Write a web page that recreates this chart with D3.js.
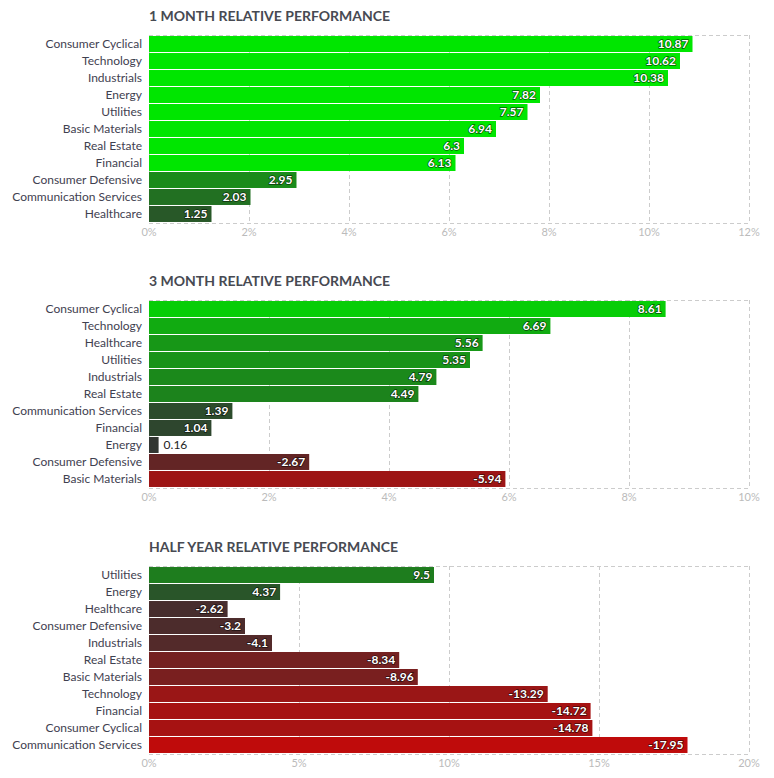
<!DOCTYPE html>
<html>
<head>
<meta charset="utf-8">
<script src="https://cdn.jsdelivr.net/npm/d3@7"></script>
<style>
  body { margin: 0; background: #fff; }
  svg { display: block; font-family: Lato, "Open Sans", sans-serif; }
</style>
</head>
<body>
<div id="chart"></div>
<script>
// chart data
var titles = ["1 MONTH RELATIVE PERFORMANCE", "3 MONTH RELATIVE PERFORMANCE", "HALF YEAR RELATIVE PERFORMANCE"];

var sectors1m = ["Consumer Cyclical", "Technology", "Industrials", "Energy", "Utilities", "Basic Materials",
  "Real Estate", "Financial", "Consumer Defensive", "Communication Services", "Healthcare"];
var values1m = [10.87, 10.62, 10.38, 7.82, 7.57, 6.94, 6.3, 6.13, 2.95, 2.03, 1.25];

var sectors3m = ["Consumer Cyclical", "Technology", "Healthcare", "Utilities", "Industrials", "Real Estate",
  "Communication Services", "Financial", "Energy", "Consumer Defensive", "Basic Materials"];
var values3m = [8.61, 6.69, 5.56, 5.35, 4.79, 4.49, 1.39, 1.04, 0.16, -2.67, -5.94];

var sectorsHy = ["Utilities", "Energy", "Healthcare", "Consumer Defensive", "Industrials", "Real Estate",
  "Basic Materials", "Technology", "Financial", "Consumer Cyclical", "Communication Services"];
var valuesHy = [9.5, 4.37, -2.62, -3.2, -4.1, -8.34, -8.96, -13.29, -14.72, -14.78, -17.95];

var axisMax = [12, 10, 20];
var tickStep = [2, 2, 5];

var svgWidth = 774;
var svgHeight = 778;

var margin = { left: 149, right: 25 };
var plotWidth = svgWidth - margin.left - margin.right;
var plotHeight = 188;
var tops = [35, 300, 566];

// colour strength saturates at this absolute value, per chart
var colorCap = [6, 10, 23];

var svg = d3.select("#chart")
  .append("svg")
  .attr("width", svgWidth)
  .attr("height", svgHeight);

var charts = [
  { sectors: sectors1m, values: values1m },
  { sectors: sectors3m, values: values3m },
  { sectors: sectorsHy, values: valuesHy }
];

charts.forEach(function(c, i) {
  var data = c.sectors.map(function(s, j) { return { name: s, value: c.values[j] }; });

  var g = svg.append("g")
    .attr("transform", `translate(${margin.left}, ${tops[i]})`);

  g.append("text")
    .attr("x", 0)
    .attr("y", -14)
    .attr("fill", "#474a52")
    .style("font-size", "14px")
    .style("font-weight", "bold")
    .text(titles[i]);

  var xScale = d3.scaleLinear()
    .domain([0, axisMax[i]])
    .range([0, plotWidth]);

  var yScale = d3.scaleBand()
    .domain(c.sectors)
    .range([0, plotHeight])
    .paddingInner(0.06)
    .paddingOuter(0.06);

  var pos = d3.scaleLinear().domain([0, colorCap[i]]).range(["#333333", "#00e600"]).clamp(true);
  var neg = d3.scaleLinear().domain([0, colorCap[i]]).range(["#333333", "#e60000"]).clamp(true);
  var color = function(v) { return v >= 0 ? pos(v) : neg(-v); };

  var ticks = d3.range(0, axisMax[i] + 0.001, tickStep[i]);

  // dashed grid
  g.selectAll(".grid")
    .data(ticks)
    .enter()
    .append("line")
    .attr("x1", d => xScale(d) + 0.5)
    .attr("x2", d => xScale(d) + 0.5)
    .attr("y1", 0)
    .attr("y2", plotHeight)
    .attr("stroke", "#cccccc")
    .attr("stroke-dasharray", "4,3");

  [0, plotHeight].forEach(function(y) {
    g.append("line")
      .attr("x1", 0)
      .attr("x2", plotWidth + 1)
      .attr("y1", y + 0.5)
      .attr("y2", y + 0.5)
      .attr("stroke", "#cccccc")
      .attr("stroke-dasharray", "4,3");
  });

  // tick labels
  g.selectAll(".tick-label")
    .data(ticks)
    .enter()
    .append("text")
    .attr("x", d => xScale(d))
    .attr("y", plotHeight + 13)
    .attr("text-anchor", "middle")
    .attr("fill", "#bbbbbb")
    .style("font-size", "11px")
    .text(d => d + "%");

  // category labels
  g.selectAll(".cat")
    .data(data)
    .enter()
    .append("text")
    .attr("x", -7)
    .attr("y", d => yScale(d.name) + yScale.bandwidth() / 2)
    .attr("dy", "0.35em")
    .attr("text-anchor", "end")
    .attr("fill", "#3f4150")
    .style("font-size", "12px")
    .text(d => d.name);

  // bars, length = absolute value
  g.selectAll(".bar")
    .data(data)
    .enter()
    .append("rect")
    .attr("x", 0)
    .attr("y", d => yScale(d.name))
    .attr("width", d => xScale(Math.abs(d.value)))
    .attr("height", yScale.bandwidth())
    .attr("fill", d => color(d.value));

  // value labels
  g.selectAll(".val")
    .data(data)
    .enter()
    .append("text")
    .each(function(d) {
      var w = xScale(Math.abs(d.value));
      var inside = w > 30;
      d3.select(this)
        .attr("x", inside ? w - 4 : w + 5)
        .attr("y", yScale(d.name) + yScale.bandwidth() / 2)
        .attr("dy", "0.35em")
        .attr("text-anchor", inside ? "end" : "start")
        .attr("fill", inside ? "#ffffff" : "#222222")
        .attr("stroke", inside ? "rgba(0,0,0,0.6)" : "#ffffff")
        .attr("stroke-width", 1.5)
        .attr("paint-order", "stroke")
        .style("font-size", "12px")
        .style("font-weight", inside ? "bold" : "normal")
        .text(d.value);
    });
});
</script>
</body>
</html>
